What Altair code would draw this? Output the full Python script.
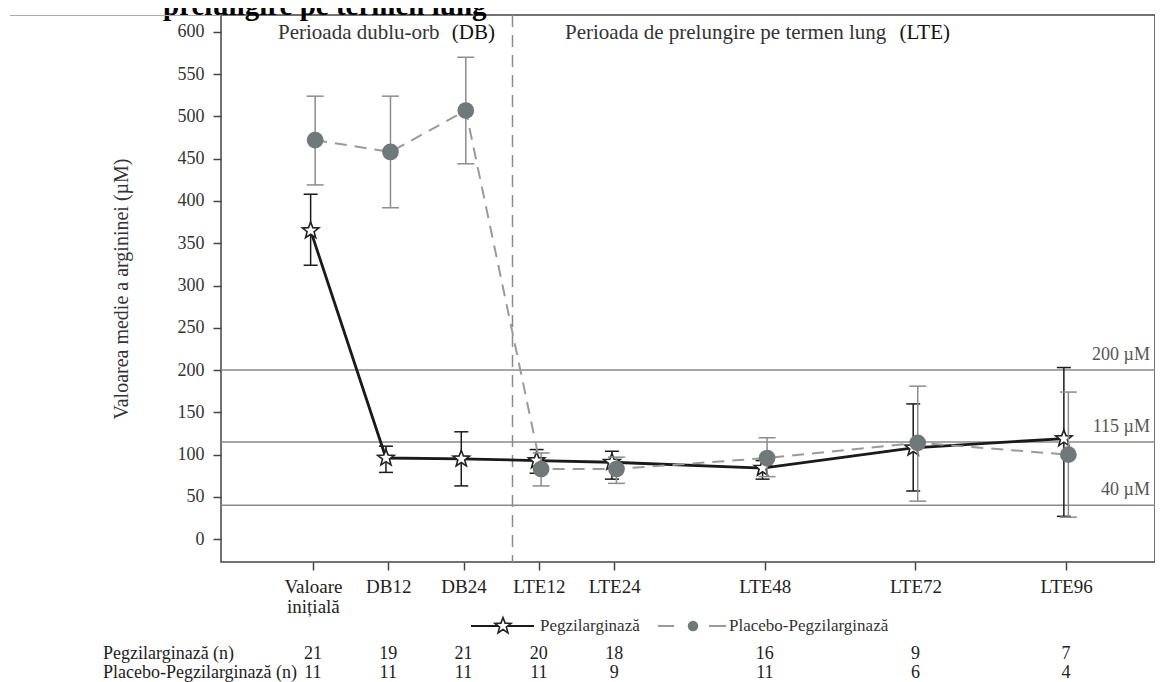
import math
import altair as alt
import pandas as pd

# ---------------- data ----------------
visits = ["Valoare inițială", "DB12", "DB24", "LTE12", "LTE24", "LTE48", "LTE72", "LTE96"]
visit_pos = [0, 1, 2, 3, 4, 6, 8, 10]

peg_mean = [365, 96, 95, 93, 91, 84, 108, 119]
peg_low = [324, 79, 63, 78, 71, 71, 57, 27]
peg_high = [408, 110, 127, 106, 104, 93, 160, 203]

pla_mean = [472, 458, 507, 83, 83, 96, 114, 100]
pla_low = [419, 392, 444, 63, 66, 74, 45, 26]
pla_high = [524, 524, 570, 102, 97, 120, 181, 174]

peg_n = [21, 19, 21, 20, 18, 16, 9, 7]
pla_n = [11, 11, 11, 11, 9, 11, 6, 4]

ref_vals = [200, 115, 40]
ref_labels = ["200 µM", "115 µM", "40 µM"]

period_split = [2.65]

SERIF = "Liberation Serif, Times New Roman, serif"

# ---------------- frames ----------------
peg_df = pd.DataFrame({"visit": visits, "x": [p - 0.03 for p in visit_pos],
                       "mean": peg_mean, "low": peg_low, "high": peg_high})
pla_df = pd.DataFrame({"visit": visits, "x": [p + 0.03 for p in visit_pos],
                       "mean": pla_mean, "low": pla_low, "high": pla_high})
n_df = pd.DataFrame({"x": visit_pos, "peg": peg_n, "pla": pla_n})
ref_df = pd.DataFrame({"val": ref_vals, "label": ref_labels})
split_df = pd.DataFrame({"x": period_split})

# ---------------- scales / axes ----------------
parts = []
for p, lab in zip(visit_pos, visits):
    if " " in lab:
        arr = "[" + ",".join("'" + w + "'" for w in lab.split(" ")) + "]"
        parts.append(f"datum.value == {p} ? {arr}")
    else:
        parts.append(f"datum.value == {p} ? '{lab}'")
label_expr = " : ".join(parts) + " : ''"

xscale = alt.Scale(domain=[-1.22, 11.18], nice=False, zero=False)
yscale = alt.Scale(domain=[-27, 620], nice=False, zero=False)

xaxis = alt.Axis(values=visit_pos, labelExpr=label_expr, title=None, grid=False,
                 domain=False, tickSize=8, tickWidth=1.5, tickColor="#444",
                 labelFont=SERIF, labelFontSize=19, labelColor="#222",
                 labelPadding=7, labelLineHeight=20, labelFlush=False,
                 labelOverlap=False)
yaxis = alt.Axis(values=list(range(0, 601, 50)), title="Valoarea medie a argininei  (µM)",
                 grid=False, domain=False, tickSize=8, tickWidth=1.5, tickColor="#444",
                 labelFont=SERIF, labelFontSize=18, labelColor="#333", labelPadding=9,
                 titleFont=SERIF, titleFontSize=20, titleFontWeight="normal",
                 titleColor="#333", titlePadding=46)

X = lambda f: alt.X(f, scale=xscale, axis=xaxis)
Y = lambda f: alt.Y(f, scale=yscale, axis=yaxis)

# star shape
pts = []
for i in range(10):
    r = 1.0 if i % 2 == 0 else 0.42
    a = math.radians(-90 + 36 * i)
    pts.append(f"{r * math.cos(a):.3f},{r * math.sin(a):.3f}")
STAR = "M" + "L".join(pts) + "Z"

PEG_C = "#1a1a1a"
PLA_LINE = "#9a9a9a"
PLA_ERR = "#8c8c8c"
PLA_DOT = "#6f7979"
REF_C = "#8a8a8a"

one = alt.Data(values=[{"a": 1}])

# ---------------- layers ----------------
refs = alt.Chart(ref_df).mark_rule(color=REF_C, strokeWidth=1.5).encode(y=Y("val:Q"))
ref_text = alt.Chart(ref_df).mark_text(font=SERIF, fontSize=18, color="#555",
                                        align="right", baseline="middle", dy=-15).encode(
    y=Y("val:Q"), x=alt.value(929), text="label:N")
split = alt.Chart(split_df).mark_rule(color=REF_C, strokeWidth=1.5,
                                      strokeDash=[12, 8]).encode(x=X("x:Q"))

peg_err = alt.Chart(peg_df).mark_rule(color=PEG_C, strokeWidth=1.5).encode(
    x=X("x:Q"), y=Y("low:Q"), y2="high:Q")
peg_caps = alt.Chart(peg_df).transform_fold(["low", "high"], as_=["k", "v"]).mark_tick(
    orient="horizontal", size=14, thickness=1.5, color=PEG_C, opacity=1).encode(
    x=X("x:Q"), y=Y("v:Q"))
peg_line = alt.Chart(peg_df).mark_line(color=PEG_C, strokeWidth=2.8).encode(
    x=X("x:Q"), y=Y("mean:Q"))
peg_pts = alt.Chart(peg_df).mark_point(shape=STAR, filled=True, fill="white",
                                       stroke="#222", strokeWidth=1.6, size=300,
                                       opacity=1).encode(x=X("x:Q"), y=Y("mean:Q"))

pla_err = alt.Chart(pla_df).mark_rule(color=PLA_ERR, strokeWidth=1.5).encode(
    x=X("x:Q"), y=Y("low:Q"), y2="high:Q")
pla_caps = alt.Chart(pla_df).transform_fold(["low", "high"], as_=["k", "v"]).mark_tick(
    orient="horizontal", size=17, thickness=1.5, color=PLA_ERR, opacity=1).encode(
    x=X("x:Q"), y=Y("v:Q"))
pla_line = alt.Chart(pla_df).mark_line(color=PLA_LINE, strokeWidth=2,
                                       strokeDash=[12, 8]).encode(x=X("x:Q"), y=Y("mean:Q"))
pla_pts = alt.Chart(pla_df).mark_circle(size=280, color=PLA_DOT, opacity=1).encode(
    x=X("x:Q"), y=Y("mean:Q"))

# counts table
n_peg = alt.Chart(n_df).mark_text(font=SERIF, fontSize=18, color="#222",
                                  baseline="middle").encode(
    x=X("x:Q"), y=alt.value(639), text="peg:Q")
n_pla = alt.Chart(n_df).mark_text(font=SERIF, fontSize=18, color="#222",
                                  baseline="middle").encode(
    x=X("x:Q"), y=alt.value(658), text="pla:Q")


def txt(s, x, y, size=18, align="left", color="#222", weight="normal", baseline="middle"):
    return alt.Chart(one).mark_text(font=SERIF, fontSize=size, color=color, align=align,
                                    baseline=baseline, fontWeight=weight).encode(
        x=alt.value(x), y=alt.value(y), text=alt.value(s))


def hline(x1, x2, y, color, width, dash=None):
    kw = dict(color=color, strokeWidth=width)
    if dash:
        kw["strokeDash"] = dash
    return alt.Chart(one).mark_rule(**kw).encode(x=alt.value(x1), x2=alt.value(x2),
                                                 y=alt.value(y))


row_lab1 = txt("Pegzilarginază  (n)", -118, 639)
row_lab2 = txt("Placebo-Pegzilarginază  (n)", -118, 658)

# period annotations
per1 = txt("Perioada dublu-orb", 57, 18, size=21, color="#333")
per1b = txt("(DB)", 274, 18, size=21, align="right", color="#111")
per2 = txt("Perioada de prelungire pe termen lung", 344, 18, size=21, color="#333")
per2b = txt("(LTE)", 729, 18, size=21, align="right", color="#111")

# cropped heading and rule above
heading = txt("prelungire pe termen lung", -58, 0, size=29, color="#000",
              weight="bold", baseline="alphabetic")
top_rule = hline(-211, 0, 0.5, "#aaaaaa", 1.2)

# legend
leg_l1 = hline(250, 313, 611, PEG_C, 2.2)
leg_s1 = alt.Chart(one).mark_point(shape=STAR, filled=True, fill="white", stroke="#222",
                                   strokeWidth=1.6, size=290, opacity=1).encode(
    x=alt.value(282), y=alt.value(611))
leg_t1 = txt("Pegzilarginază", 319, 611, size=17, color="#333")
leg_l2a = hline(437, 453, 611, PLA_LINE, 2)
leg_l2b = hline(488, 505, 611, PLA_LINE, 2)
leg_d2 = alt.Chart(one).mark_circle(size=110, color=PLA_DOT, opacity=1).encode(
    x=alt.value(472), y=alt.value(611))
leg_t2 = txt("Placebo-Pegzilarginază", 508, 611, size=17, color="#333")

chart = alt.layer(
    refs, split, ref_text,
    peg_err, peg_caps, peg_line, peg_pts,
    pla_err, pla_caps, pla_line, pla_pts,
    n_peg, n_pla, row_lab1, row_lab2,
    per1, per1b, per2, per2b, heading, top_rule,
    leg_l1, leg_s1, leg_t1, leg_l2a, leg_l2b, leg_d2, leg_t2,
).properties(
    width=934, height=547,
    autosize=alt.AutoSizeParams(type="none"),
    padding={"left": 213, "top": 7, "right": 0, "bottom": 120},
    background="white",
).configure_view(stroke="#444", strokeWidth=1.5)

chart.save("out.html", embed_options={"renderer": "svg", "actions": False})
